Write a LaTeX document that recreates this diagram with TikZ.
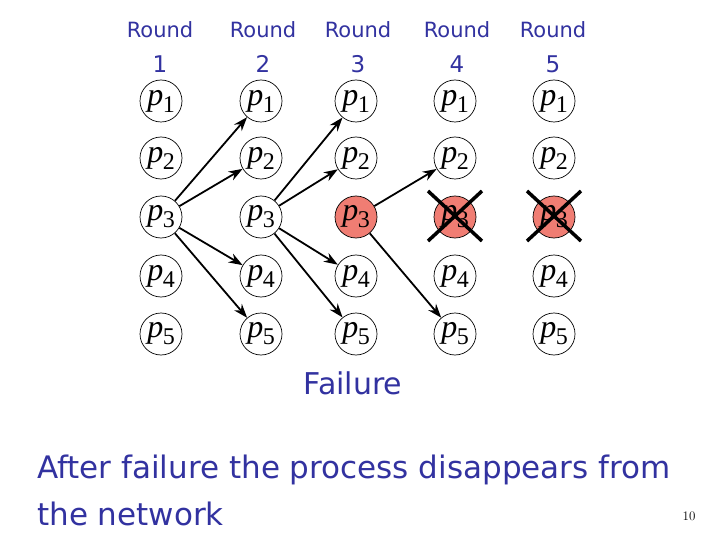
\documentclass[tikz,border=0pt]{standalone}
\usepackage{fontspec}
\newfontfamily\comic{DejaVu Sans}
\newfontfamily\tms{Liberation Serif}
\usetikzlibrary{arrows.meta}
\definecolor{txtblue}{RGB}{50,50,160}
\definecolor{failred}{RGB}{240,125,115}
\newcommand\pname[1]{{\tms\fontsize{32}{32}\selectfont\itshape p}\kern-0.5pt{\tms\fontsize{24}{24}\selectfont\raisebox{-7pt}{#1}}}
\begin{document}
\begin{tikzpicture}[x=1pt,y=-1pt,
  proc/.style={circle,draw=black,line width=0.7pt,minimum size=42pt,inner sep=0pt},
  failed/.style={proc,fill=failred},
  msg/.style={line width=1.8pt,-{Stealth[length=14pt,width=10pt]}},
  hdr/.style={text=txtblue,font=\comic\fontsize{21}{21}\selectfont,inner sep=0pt},
  cross/.style={line width=3.5pt,black}]
\useasboundingbox (0,0) rectangle (720,540);
% headers
\foreach \x/\n in {160/1,263/2,358/3,457/4,553/5}{
  \node[hdr] (r\n) at (\x,30) {Round};
  \node[hdr,font=\comic\fontsize{23}{23}\selectfont,anchor=base] (d\n) at (\x,73) {\n};
}
% processes
\foreach \x [count=\c] in {161,261,356,455,554}{
  \foreach \y [count=\r] in {101,158,217,276,334}{
    \ifnum\r=3 \ifnum\c>2
      \node[failed] (n\c\r) at (\x,\y) {\pname{\r}};
    \else
      \node[proc] (n\c\r) at (\x,\y) {\pname{\r}};
    \fi
    \else
      \node[proc] (n\c\r) at (\x,\y) {\pname{\r}};
    \fi
  }
}
% messages
\foreach \s/\t in {1/2,2/3}{
  \draw[msg] (n\s3) -- (n\t1);
  \draw[msg] (n\s3) -- (n\t2);
  \draw[msg] (n\s3) -- (n\t4);
  \draw[msg] (n\s3) -- (n\t5);
}
\draw[msg] (n33) -- (n42);
\draw[msg] (n33) -- (n45);
% crosses
\foreach \c in {4,5}{
  \draw[cross] ([shift={(-27,-26)}]n\c3.center) coordinate (a\c) -- ([shift={(27,24)}]n\c3.center) coordinate (b\c);
  \draw[cross] ([shift={(27,-26)}]n\c3.center) coordinate (e\c) -- ([shift={(-27,24)}]n\c3.center) coordinate (f\c);
}
% texts
\node[text=txtblue,font=\comic\fontsize{30}{30}\selectfont,inner sep=0pt] (fail) at (353,383) {Failure};
\node[text=txtblue,font=\comic\fontsize{31}{31}\selectfont,inner sep=0pt,anchor=base west] (l1) at (37,478) {After failure the process disappears from};
\node[text=txtblue,font=\comic\fontsize{31}{31}\selectfont,inner sep=0pt,anchor=base west] (l2) at (37,525) {the network};
\node[font=\fontsize{13}{13}\selectfont,inner sep=0pt] (pg) at (689,516) {10};
\end{tikzpicture}
\end{document}
